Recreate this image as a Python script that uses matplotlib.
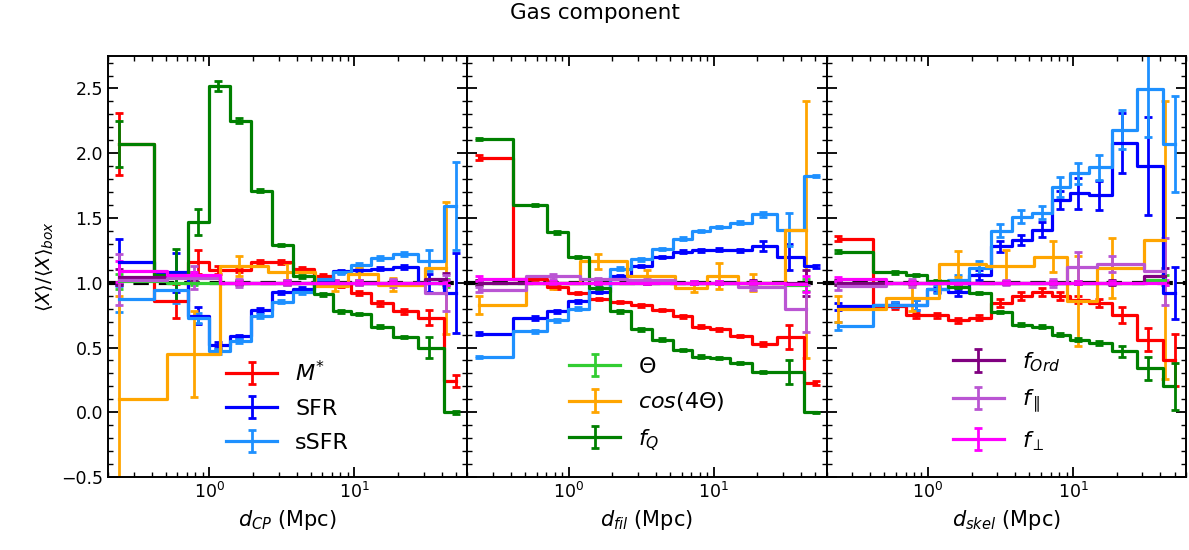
import matplotlib
matplotlib.use('Agg')
import matplotlib.pyplot as plt
from matplotlib.ticker import MultipleLocator, LogLocator, NullFormatter

plt.rcParams['font.family'] = ['DejaVu Sans']
plt.rcParams['mathtext.fontset'] = 'dejavusans'

# ---------------- data ----------------
# distance grids (Mpc)
x_gal = [0.24, 0.59, 0.83, 1.15, 1.61, 2.25, 3.14, 4.38, 6.1, 8.1, 10.8, 15.1, 21.8, 32.9, 50.5]
x_ori = [0.24, 0.78, 1.6, 3.45, 7.3, 10.8, 18.5, 43.0]

# ---- d_CP panel ----
cp_mstar = [2.07, 0.86, 1.16, 1.10, 1.10, 1.16, 1.16, 1.11, 1.05, 0.985, 0.92, 0.84, 0.78, 0.73, 0.24]
cp_mstar_err = [0.24, 0.13, 0.09, 0.03, 0.02, 0.015, 0.015, 0.015, 0.015, 0.015, 0.015, 0.02, 0.02, 0.06, 0.045]
cp_sfr = [1.16, 1.08, 0.745, 0.52, 0.585, 0.79, 0.925, 0.95, 1.01, 1.087, 1.10, 1.11, 1.125, 1.0, 0.92]
cp_sfr_err = [0.18, 0.15, 0.065, 0.02, 0.015, 0.015, 0.015, 0.015, 0.01, 0.01, 0.01, 0.01, 0.015, 0.07, 0.31]
cp_ssfr = [0.875, 0.946, 0.73, 0.47, 0.55, 0.74, 0.855, 0.93, 1.03, 1.08, 1.14, 1.19, 1.22, 1.17, 1.59]
cp_ssfr_err = [0.1, 0.1, 0.04, 0.02, 0.015, 0.015, 0.015, 0.015, 0.01, 0.01, 0.01, 0.015, 0.015, 0.08, 0.34]
cp_fq = [2.07, 1.06, 1.47, 2.52, 2.25, 1.71, 1.29, 1.05, 0.91, 0.78, 0.76, 0.66, 0.58, 0.50, 0.0]
cp_fq_err = [0.18, 0.2, 0.1, 0.04, 0.02, 0.01, 0.01, 0.01, 0.01, 0.01, 0.01, 0.01, 0.01, 0.08, 0.01]
cp_theta = [1.01, 1.0, 1.0, 1.0, 1.0, 1.0, 1.0, 1.0]
cp_theta_err = [0.06, 0.02, 0.01, 0.01, 0.01, 0.01, 0.01, 0.03]
cp_cos4 = [0.10, 0.45, 1.13, 1.08, 0.975, 1.07, 0.985, 1.115]
cp_cos4_err = [0.8, 0.33, 0.08, 0.07, 0.04, 0.05, 0.05, 0.51]
cp_ford = [1.045, 1.05, 1.0, 1.0, 1.0, 1.0, 1.0, 1.03]
cp_ford_err = [0.06, 0.03, 0.02, 0.02, 0.02, 0.02, 0.02, 0.045]
cp_fpar = [1.025, 1.04, 1.0, 1.0, 1.0, 1.0, 1.0, 0.92]
cp_fpar_err = [0.195, 0.09, 0.03, 0.02, 0.02, 0.02, 0.03, 0.14]
cp_fperp = [1.087, 1.06, 1.0, 1.0, 1.0, 1.0, 1.0, 1.0]
cp_fperp_err = [0.08, 0.02, 0.01, 0.01, 0.01, 0.01, 0.01, 0.02]

# ---- d_fil panel ----
fil_mstar = [1.966, 1.03, 0.964, 0.92, 0.875, 0.85, 0.825, 0.79, 0.74, 0.66, 0.64, 0.59, 0.527, 0.58, 0.226]
fil_mstar_err = [0.02, 0.01, 0.01, 0.01, 0.01, 0.01, 0.01, 0.01, 0.01, 0.01, 0.01, 0.01, 0.015, 0.09, 0.015]
fil_sfr = [0.607, 0.73, 0.78, 0.856, 0.93, 1.05, 1.13, 1.20, 1.24, 1.25, 1.255, 1.25, 1.285, 1.2, 1.126]
fil_sfr_err = [0.01, 0.015, 0.01, 0.01, 0.01, 0.01, 0.01, 0.01, 0.01, 0.01, 0.01, 0.01, 0.04, 0.1, 0.01]
fil_ssfr = [0.427, 0.625, 0.71, 0.80, 0.96, 1.11, 1.18, 1.26, 1.34, 1.40, 1.43, 1.465, 1.53, 1.41, 1.825]
fil_ssfr_err = [0.01, 0.01, 0.01, 0.01, 0.01, 0.01, 0.01, 0.01, 0.01, 0.01, 0.01, 0.01, 0.02, 0.13, 0.01]
fil_fq = [2.11, 1.60, 1.39, 1.20, 0.96, 0.78, 0.64, 0.56, 0.48, 0.43, 0.42, 0.38, 0.31, 0.31, 0.0]
fil_fq_err = [0.01, 0.01, 0.01, 0.01, 0.01, 0.01, 0.01, 0.01, 0.01, 0.01, 0.01, 0.01, 0.01, 0.09, 0.005]
fil_theta = [1.0, 1.0, 1.0, 1.0, 1.0, 1.0, 1.0, 0.985]
fil_theta_err = [0.02, 0.01, 0.01, 0.01, 0.01, 0.01, 0.01, 0.045]
fil_cos4 = [0.83, 1.0, 1.165, 1.05, 0.96, 1.05, 1.0, 1.41]
fil_cos4_err = [0.07, 0.05, 0.06, 0.05, 0.03, 0.1, 0.065, 0.99]
fil_ford = [1.0, 1.0, 1.0, 1.0, 1.0, 1.0, 1.0, 1.0]
fil_ford_err = [0.02, 0.01, 0.01, 0.01, 0.01, 0.01, 0.02, 0.1]
fil_fpar = [0.946, 1.05, 1.03, 1.02, 1.0, 1.0, 0.967, 0.8]
fil_fpar_err = [0.02, 0.02, 0.01, 0.01, 0.01, 0.01, 0.02, 0.18]
fil_fperp = [1.03, 1.0, 1.0, 1.0, 1.0, 1.0, 1.0, 0.99]
fil_fperp_err = [0.02, 0.01, 0.01, 0.01, 0.01, 0.01, 0.01, 0.06]

# ---- d_skel panel ----
sk_mstar = [1.34, 0.82, 0.75, 0.75, 0.71, 0.73, 0.845, 0.895, 0.93, 0.895, 0.87, 0.845, 0.753, 0.56, 0.406]
sk_mstar_err = [0.02, 0.02, 0.02, 0.02, 0.02, 0.02, 0.03, 0.03, 0.03, 0.03, 0.03, 0.03, 0.06, 0.09, 0.2]
sk_sfr = [0.817, 0.83, 0.83, 0.95, 0.925, 1.06, 1.28, 1.33, 1.41, 1.64, 1.69, 1.675, 2.08, 1.90, 0.92]
sk_sfr_err = [0.03, 0.02, 0.04, 0.02, 0.03, 0.04, 0.04, 0.04, 0.06, 0.07, 0.12, 0.11, 0.23, 0.38, 0.2]
sk_ssfr = [0.668, 0.83, 0.83, 0.95, 1.02, 1.115, 1.40, 1.51, 1.54, 1.74, 1.845, 1.89, 2.18, 2.495, 2.07]
sk_ssfr_err = [0.03, 0.02, 0.04, 0.03, 0.04, 0.05, 0.05, 0.05, 0.05, 0.08, 0.08, 0.1, 0.15, 0.37, 0.37]
sk_fq = [1.24, 1.08, 1.06, 1.01, 0.97, 0.92, 0.775, 0.676, 0.66, 0.6, 0.56, 0.535, 0.47, 0.34, 0.2]
sk_fq_err = [0.01, 0.01, 0.01, 0.01, 0.01, 0.01, 0.01, 0.01, 0.01, 0.01, 0.01, 0.015, 0.04, 0.09, 0.18]
sk_theta = [1.0, 1.0, 1.0, 1.0, 1.0, 1.0, 1.0, 1.02]
sk_theta_err = [0.02, 0.01, 0.01, 0.01, 0.01, 0.01, 0.01, 0.04]
sk_cos4 = [0.80, 0.88, 1.145, 1.13, 1.2, 0.86, 1.115, 1.33]
sk_cos4_err = [0.1, 0.1, 0.1, 0.12, 0.12, 0.35, 0.23, 1.07]
sk_ford = [1.0, 1.0, 1.0, 1.0, 1.0, 1.0, 1.0, 1.055]
sk_ford_err = [0.02, 0.01, 0.01, 0.01, 0.01, 0.01, 0.02, 0.06]
sk_fpar = [0.977, 1.0, 1.0, 1.0, 1.0, 1.12, 1.146, 1.087]
sk_fpar_err = [0.03, 0.03, 0.02, 0.02, 0.03, 0.12, 0.06, 0.26]
sk_fperp = [1.03, 1.0, 1.0, 1.0, 1.0, 1.0, 1.0, 1.0]
sk_fperp_err = [0.015, 0.01, 0.01, 0.01, 0.01, 0.01, 0.01, 0.02]

xlabels = ['$d_{CP}$ (Mpc)', '$d_{fil}$ (Mpc)', '$d_{skel}$ (Mpc)']

series_names = ['mstar', 'sfr', 'ssfr', 'theta', 'cos4', 'fq', 'ford', 'fpar', 'fperp']
series_labels = {'mstar': '$M^{*}$', 'sfr': 'SFR', 'ssfr': 'sSFR',
                 'theta': r'$\Theta$', 'cos4': r'$cos(4\Theta)$', 'fq': '$f_Q$',
                 'ford': '$f_{Ord}$', 'fpar': r'$f_{\parallel}$', 'fperp': r'$f_{\perp}$'}
series_colors = {'mstar': 'red', 'sfr': 'blue', 'ssfr': 'dodgerblue',
                 'theta': 'limegreen', 'cos4': 'orange', 'fq': 'green',
                 'ford': 'purple', 'fpar': 'mediumorchid', 'fperp': 'magenta'}
ori_names = ['theta', 'cos4', 'ford', 'fpar', 'fperp']
legend_groups = [['mstar', 'sfr', 'ssfr'], ['theta', 'cos4', 'fq'], ['ford', 'fpar', 'fperp']]

panels = [
    {'mstar': (cp_mstar, cp_mstar_err), 'sfr': (cp_sfr, cp_sfr_err), 'ssfr': (cp_ssfr, cp_ssfr_err),
     'theta': (cp_theta, cp_theta_err), 'cos4': (cp_cos4, cp_cos4_err), 'fq': (cp_fq, cp_fq_err),
     'ford': (cp_ford, cp_ford_err), 'fpar': (cp_fpar, cp_fpar_err), 'fperp': (cp_fperp, cp_fperp_err)},
    {'mstar': (fil_mstar, fil_mstar_err), 'sfr': (fil_sfr, fil_sfr_err), 'ssfr': (fil_ssfr, fil_ssfr_err),
     'theta': (fil_theta, fil_theta_err), 'cos4': (fil_cos4, fil_cos4_err), 'fq': (fil_fq, fil_fq_err),
     'ford': (fil_ford, fil_ford_err), 'fpar': (fil_fpar, fil_fpar_err), 'fperp': (fil_fperp, fil_fperp_err)},
    {'mstar': (sk_mstar, sk_mstar_err), 'sfr': (sk_sfr, sk_sfr_err), 'ssfr': (sk_ssfr, sk_ssfr_err),
     'theta': (sk_theta, sk_theta_err), 'cos4': (sk_cos4, sk_cos4_err), 'fq': (sk_fq, sk_fq_err),
     'ford': (sk_ford, sk_ford_err), 'fpar': (sk_fpar, sk_fpar_err), 'fperp': (sk_fperp, sk_fperp_err)},
]

# ---------------- figure ----------------
fig, axes = plt.subplots(1, 3, figsize=(11.89, 5.5), dpi=100, sharey=True)
fig.subplots_adjust(left=0.0908, right=0.9975, bottom=0.1327, top=0.898, wspace=0)

for i, (ax, pdata) in enumerate(zip(axes, panels)):
    ax.axhline(1.0, color='black', lw=3, ls=(0, (3.7, 2.4)), zorder=1)
    handles = {}
    for name in series_names:
        y, e = pdata[name]
        x = x_ori if name in ori_names else x_gal
        h = ax.errorbar(x, y, yerr=e, drawstyle='steps-mid', color=series_colors[name],
                        lw=2.3, elinewidth=2, capsize=3, capthick=2, zorder=2,
                        label=series_labels[name])
        handles[name] = h
    grp = legend_groups[i]
    ax.legend([handles[n] for n in grp], [series_labels[n] for n in grp],
              loc='lower center', frameon=False, fontsize=16, handlelength=2.3,
              handletextpad=0.8, labelspacing=0.62, borderaxespad=0.7)
    ax.set_xscale('log')
    ax.set_xlim(0.2, 60)
    ax.set_ylim(-0.5, 2.75)
    ax.yaxis.set_major_locator(MultipleLocator(0.5))
    ax.yaxis.set_minor_locator(MultipleLocator(0.1))
    ax.xaxis.set_major_locator(LogLocator(base=10))
    ax.xaxis.set_minor_locator(LogLocator(base=10, subs=[2, 3, 4, 5, 6, 7, 8, 9]))
    ax.xaxis.set_minor_formatter(NullFormatter())
    ax.tick_params(which='both', direction='in', top=True, right=True, labelsize=12.5)
    ax.tick_params(which='major', length=7, width=1.3)
    ax.tick_params(which='minor', length=3.5, width=1.0)
    for s in ax.spines.values():
        s.set_linewidth(1.4)
    ax.set_xlabel(xlabels[i], fontsize=15)

axes[0].set_ylabel(r'$\langle X\rangle/\langle X\rangle_{box}$', fontsize=14)
fig.suptitle('Gas component', fontsize=15.5, y=0.976, va='center')

fig.savefig('out.png', dpi=100)
